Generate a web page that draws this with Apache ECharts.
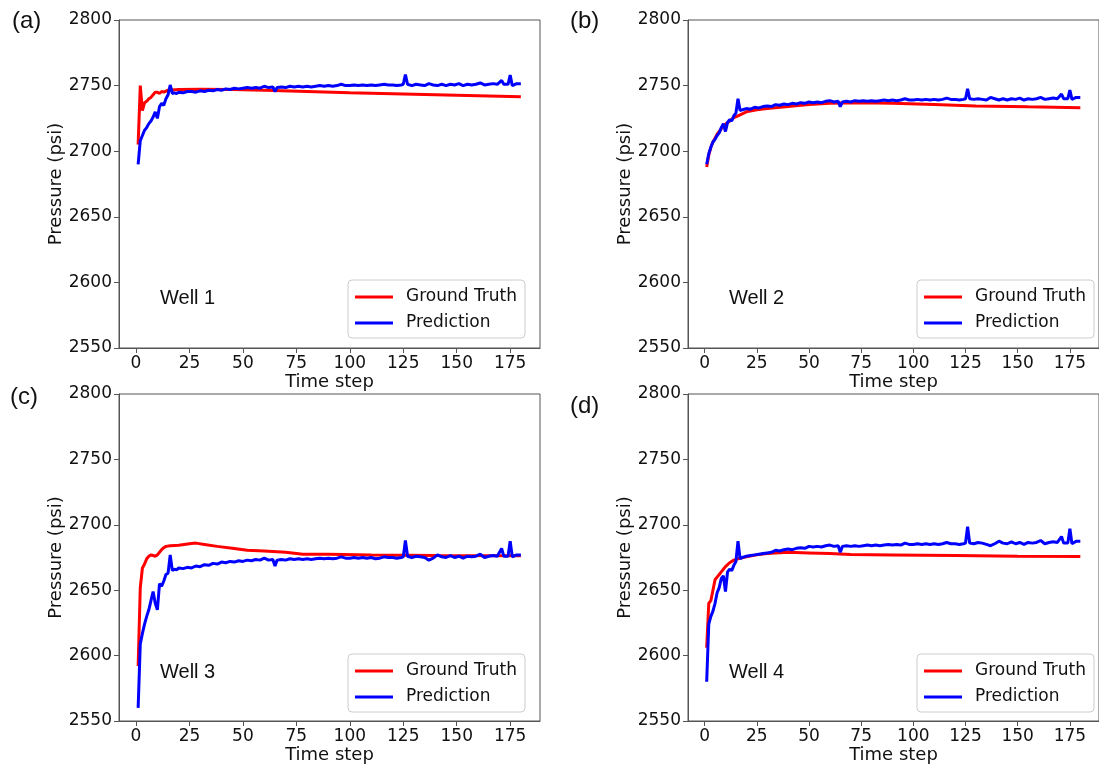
<!DOCTYPE html>
<html>
<head>
<meta charset="utf-8">
<script src="https://cdn.jsdelivr.net/npm/echarts@6/dist/echarts.min.js"></script>
<style>
  html, body { margin: 0; padding: 0; background: #fff; }
  #chart { width: 1099px; height: 765px; }
</style>
</head>
<body>
<div id="chart"></div>
<script>
const xTicks = [0, 25, 50, 75, 100, 125, 150, 175]
const panelLabels = ['(a)', '(b)', '(c)', '(d)']
const wellNames = ['Well 1', 'Well 2', 'Well 3', 'Well 4']
const seriesNames = ['Ground Truth', 'Prediction']

const well1Truth = [[1,2705],[2,2750],[3,2731],[4,2737],[5,2738],[6,2740],[7,2741],[8,2743],[9,2745],[10,2745],[11,2744],[12,2745.5],[13,2745],[15,2746.5],[20,2747],[30,2747.2],[45,2747],[60,2746.5],[80,2745.5],[100,2744.5],[130,2743.5],[155,2742.5],[180,2741.5]]
const well1Pred = [[1,2690],[2,2708],[3,2712],[4,2716],[5,2718],[6,2721],[7,2723],[8,2726],[9,2730],[10,2725],[11,2734],[12,2736.5],[13,2735],[14,2740],[15,2743],[16,2750.5],[17,2744],[18,2744.5],[19,2744],[20,2745],[22,2744.5],[24,2745.5],[26,2745.5],[28,2745],[30,2746],[32,2745.5],[34,2746.5],[36,2746],[38,2747],[40,2746.5],[42,2747.5],[44,2747],[46,2748],[48,2747.5],[50,2748],[52,2748.5],[54,2748],[56,2748.5],[58,2748],[60,2749.5],[62,2748.5],[64,2749],[65,2745.5],[66,2748.5],[68,2749],[70,2748.5],[72,2749.5],[74,2749],[76,2749.5],[78,2749],[80,2749.5],[82,2749],[84,2749.5],[86,2750],[88,2749.5],[90,2750],[92,2749.5],[94,2750],[96,2751],[98,2750],[100,2750],[102,2750.5],[104,2750],[106,2750.5],[108,2750],[110,2750.5],[112,2750],[114,2750.5],[116,2751],[118,2750.5],[120,2750.5],[122,2750],[124,2750.5],[125,2751],[126,2758.5],[127,2751],[129,2750],[131,2751],[133,2750.5],[135,2750],[137,2751.5],[139,2750.5],[141,2750],[143,2751],[145,2750],[147,2751],[149,2750.5],[151,2751.5],[153,2750],[155,2751],[157,2750.5],[159,2751],[161,2752],[163,2750.5],[165,2751],[167,2751.5],[169,2751],[171,2754],[172,2751],[174,2751],[175,2758],[176,2750],[178,2751.5],[180,2751.5]]

const well2Truth = [[1,2688],[2,2697],[3,2703],[4,2707],[5,2710],[6,2713],[7,2715],[8,2717],[9,2719],[10,2720.5],[12,2723],[14,2725.5],[16,2727],[18,2728.5],[20,2730],[25,2731.5],[30,2732.5],[40,2734],[50,2735.5],[60,2736.5],[75,2737],[90,2736.5],[110,2735.5],[130,2734.5],[155,2733.8],[180,2733.2]]
const well2Pred = [[1,2690],[2,2698],[3,2703],[4,2707],[5,2709],[6,2712],[7,2714],[8,2718],[9,2721],[10,2715],[11,2722],[12,2724],[13,2723],[14,2727],[15,2729],[16,2740],[17,2731],[18,2731.5],[19,2732],[20,2732.5],[22,2732],[24,2733.5],[26,2733],[28,2734],[30,2734.5],[32,2734],[34,2735.5],[36,2735],[38,2736],[40,2735.5],[42,2736.5],[44,2736],[46,2737],[48,2736.5],[50,2737.5],[52,2737],[54,2737.5],[56,2737],[58,2738],[60,2738.5],[62,2737.5],[64,2738],[65,2734],[66,2737.5],[68,2738],[70,2737.5],[72,2738.5],[74,2738],[76,2738.5],[78,2738],[80,2738.5],[82,2738],[84,2738.5],[86,2739],[88,2738.5],[90,2739],[92,2738.5],[94,2739],[96,2740],[98,2739],[100,2739],[102,2739.5],[104,2739],[106,2739.5],[108,2739],[110,2739.5],[112,2739],[114,2739.5],[116,2740.5],[118,2739.5],[120,2739.5],[122,2739],[124,2739.5],[125,2740],[126,2747.5],[127,2740],[129,2739.5],[131,2740],[133,2739.5],[135,2739],[137,2741],[139,2740],[141,2739],[143,2740],[145,2739],[147,2740],[149,2739.5],[151,2740.5],[153,2739],[155,2740],[157,2739.5],[159,2740],[161,2741],[163,2739.5],[165,2740],[167,2740.5],[169,2740],[171,2743.5],[172,2740],[174,2740],[175,2746.5],[176,2739.5],[178,2741],[180,2741]]

const well3Truth = [[1,2592],[2,2652],[3,2667],[4,2670],[5,2674],[6,2676],[7,2677],[8,2676.5],[9,2676],[10,2677],[11,2679],[12,2681],[13,2682.5],[14,2683.5],[16,2684],[20,2684.3],[25,2685.5],[28,2686],[32,2685],[38,2683.5],[45,2682],[52,2680.5],[60,2680],[70,2679],[78,2677.5],[90,2677.5],[110,2677],[140,2676.5],[180,2676.3]]
const well3Pred = [[1,2560],[2,2609],[3,2617],[4,2624],[5,2630],[6,2635],[7,2642],[8,2649],[9,2640],[10,2635],[11,2655],[12,2653],[13,2657],[14,2662],[15,2663],[16,2677],[17,2665],[18,2666],[19,2665.5],[20,2667],[22,2666.5],[24,2667.5],[26,2667],[28,2668.5],[30,2668],[32,2669.5],[34,2669],[36,2670.5],[38,2670],[40,2671.5],[42,2671],[44,2672],[46,2671.5],[48,2672.5],[50,2672],[52,2673],[54,2672.5],[56,2673.5],[58,2673],[60,2674.5],[62,2673],[64,2673.5],[65,2668.5],[66,2673],[68,2673.5],[70,2673],[72,2674],[74,2673.5],[76,2674],[78,2673.5],[80,2674],[82,2673.5],[84,2674],[86,2674.5],[88,2674],[90,2674.5],[92,2674],[94,2674.5],[96,2675.5],[98,2674.5],[100,2674.5],[102,2675],[104,2674.5],[106,2675],[108,2674.5],[110,2675],[112,2674],[114,2674.5],[116,2675.5],[118,2675],[120,2675],[122,2674.5],[124,2675],[125,2675.5],[126,2688],[127,2676],[129,2675],[131,2676],[133,2675.5],[135,2675],[137,2673],[139,2674.5],[141,2677],[143,2675.5],[145,2675],[147,2676.5],[149,2675],[151,2676],[153,2674.5],[155,2676],[157,2675.5],[159,2676],[161,2677.5],[163,2675],[165,2676],[167,2676.5],[169,2676],[171,2682],[172,2676],[174,2676],[175,2687.5],[176,2675.5],[178,2677],[180,2677]]

const well4Truth = [[1,2606],[2,2640],[3,2642],[4,2650],[5,2658],[6,2660],[7,2662],[8,2664],[9,2666],[10,2668],[12,2671],[14,2673],[16,2674],[20,2675.5],[25,2677],[30,2678],[40,2679],[50,2678.5],[60,2678],[70,2677.3],[90,2677],[120,2676.5],[150,2676],[180,2675.8]]
const well4Pred = [[1,2580],[2,2624],[3,2630],[4,2634],[5,2640],[6,2648],[7,2652],[8,2659],[9,2661],[10,2649],[11,2664],[12,2666],[13,2665],[14,2669],[15,2672],[16,2687.5],[17,2674],[18,2675],[19,2675.5],[20,2676],[22,2676.5],[24,2677],[26,2677.5],[28,2678],[30,2678.5],[32,2679],[34,2680.5],[36,2680],[38,2681],[40,2681.5],[42,2681],[44,2682],[46,2682.5],[48,2682],[50,2683.5],[52,2683],[54,2683.5],[56,2683],[58,2684],[60,2684.5],[62,2683.5],[64,2684],[65,2679],[66,2683.5],[68,2684],[70,2683.5],[72,2684],[74,2683.5],[76,2684],[78,2684.5],[80,2684],[82,2684.5],[84,2684],[86,2684.5],[88,2685],[90,2684.5],[92,2685],[94,2684.5],[96,2686],[98,2685],[100,2685],[102,2685.5],[104,2685],[106,2685.5],[108,2685],[110,2685.5],[112,2685],[114,2685.5],[116,2686.5],[118,2685.5],[120,2685.5],[122,2685],[124,2685.5],[125,2686],[126,2698.5],[127,2686],[129,2685.5],[131,2686.5],[133,2686],[135,2685],[137,2684],[139,2685.5],[141,2687.5],[143,2686],[145,2685.5],[147,2687],[149,2685.5],[151,2686.5],[153,2685],[155,2686.5],[157,2686],[159,2686.5],[161,2688],[163,2685.5],[165,2686.5],[167,2687],[169,2686.5],[171,2691],[172,2686],[174,2686],[175,2697],[176,2685.5],[178,2687.5],[180,2687.5]]

const truths = [well1Truth, well2Truth, well3Truth, well4Truth]
const preds = [well1Pred, well2Pred, well3Pred, well4Pred]

// panel boxes (pixel layout of the four subplots)
const boxes = [
  { left: 119, top: 20 },
  { left: 688, top: 20 },
  { left: 119, top: 394 },
  { left: 688, top: 394 }
]
const W = 421
const H = 328
const tickFont = { fontFamily: 'DejaVu Sans', fontSize: 17, color: '#111' }

const chart = echarts.init(document.getElementById('chart'))

const grid = boxes.map((b) => ({
  left: b.left, top: b.top, width: W, height: H,
  show: true, borderColor: '#555', borderWidth: 1, backgroundColor: 'transparent'
}))

const xAxis = boxes.map((b, i) => ({
  type: 'value', gridIndex: i, min: -7.95, max: 188.95,
  name: 'Time step', nameLocation: 'middle', nameGap: 25,
  nameTextStyle: { fontFamily: 'DejaVu Sans', fontSize: 18, color: '#111' },
  axisLine: { show: true, onZero: false, lineStyle: { color: '#555' } },
  axisTick: { show: true, length: 5, customValues: xTicks, lineStyle: { color: '#555' } },
  axisLabel: { ...tickFont, margin: 7, customValues: xTicks },
  splitLine: { show: false }
}))

const yAxis = boxes.map((b, i) => ({
  type: 'value', gridIndex: i, min: 2550, max: 2800, interval: 50,
  name: 'Pressure (psi)', nameLocation: 'middle', nameGap: 48,
  nameTextStyle: { fontFamily: 'DejaVu Sans', fontSize: 18, color: '#111' },
  axisLine: { show: true, onZero: false, lineStyle: { color: '#555' } },
  axisTick: { show: true, length: 5, lineStyle: { color: '#555' } },
  axisLabel: { ...tickFont, margin: 7, formatter: (v) => String(v) },
  splitLine: { show: false }
}))

const series = []
boxes.forEach((b, i) => {
  series.push({
    name: seriesNames[0], type: 'line', xAxisIndex: i, yAxisIndex: i,
    data: truths[i], showSymbol: false, color: '#ff0000',
    lineStyle: { width: 3, color: '#ff0000' }, z: 2
  })
  series.push({
    name: seriesNames[1], type: 'line', xAxisIndex: i, yAxisIndex: i,
    data: preds[i], showSymbol: false, color: '#0000ff',
    lineStyle: { width: 3, color: '#0000ff' }, z: 3
  })
})

const legend = boxes.map((b) => ({
  data: seriesNames, orient: 'vertical', selectedMode: false,
  left: b.left + 229, top: b.top + 260,
  padding: [7, 8, 5, 7], itemGap: 6, itemWidth: 38, itemHeight: 3, icon: 'rect',
  borderColor: '#ccc', borderWidth: 1, borderRadius: 4, backgroundColor: 'rgba(255,255,255,0.8)',
  textStyle: { fontFamily: 'DejaVu Sans', fontSize: 17, color: '#111', lineHeight: 20, padding: [0, 0, 0, 8] }
}))

const graphic = []
const labelPos = [[12, 9], [570, 9], [10, 385], [570, 394]]
labelPos.forEach((p, i) => {
  graphic.push({ type: 'text', left: p[0], top: p[1],
    style: { text: panelLabels[i], font: '24px "Liberation Sans", Arial', fill: '#111' } })
})
boxes.forEach((b, i) => {
  graphic.push({ type: 'text', left: b.left + 41, top: b.top + 268,
    style: { text: wellNames[i], font: '20px "Liberation Sans", Arial', fill: '#111' } })
})

chart.setOption({ animation: false, grid, xAxis, yAxis, series, legend, graphic })
</script>
</body>
</html>
